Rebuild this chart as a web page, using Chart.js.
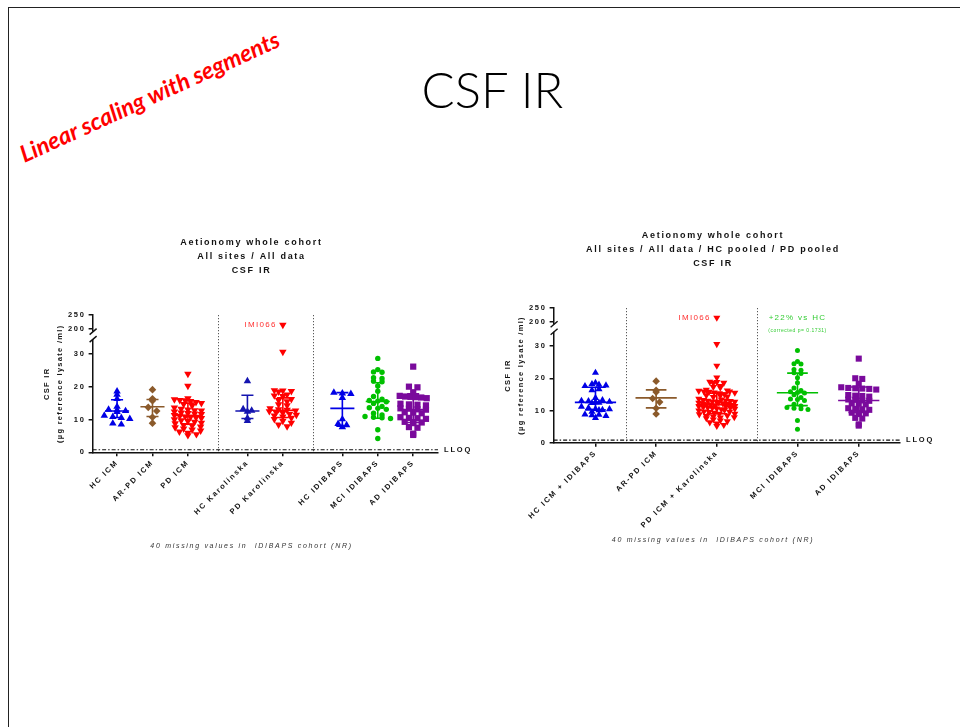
<!DOCTYPE html>
<html>
<head>
<meta charset="utf-8">
<script src="https://cdn.jsdelivr.net/npm/chart.js@4.4.1/dist/chart.umd.min.js"></script>
<style>
body { margin: 0; background: #fff; width: 960px; height: 727px; overflow: hidden; position: relative; font-family: 'Liberation Sans', Arial, sans-serif; }
#frame { position: absolute; left: 8px; top: 7px; width: 1000px; height: 1000px; border: 1px solid #222; }
#slideTitle { position: absolute; left: 0; width: 985px; top: 60px; text-align: center; font-family: Lato, 'Open Sans', sans-serif; font-weight: 300; font-size: 49px; color: #000; }
#stamp { position: absolute; left: 15px; top: 142px; transform-origin: 0 0; transform: rotate(-24.5deg); color: #f00; font: italic bold 23.5px Lato, 'Open Sans', sans-serif; white-space: nowrap; }
canvas { position: absolute; }
</style>
</head>
<body>
<div id="frame"></div>
<div id="slideTitle">CSF IR</div>
<div id="stamp">Linear scaling with segments</div>
<canvas id="chart1" width="445" height="326" style="left:30px;top:228px"></canvas>
<canvas id="chart2" width="450" height="326" style="left:497px;top:222px"></canvas>
<script>
// categories / x positions (gaps between cohorts)
const labels1 = ['HC ICM', 'AR-PD ICM', 'PD ICM', 'HC Karolinska', 'PD Karolinska', 'HC IDIBAPS', 'MCI IDIBAPS', 'AD IDIBAPS'];
const pos1 = [1, 2, 3, 4.68, 5.68, 7.36, 8.36, 9.36];
const labels2 = ['HC ICM + IDIBAPS', 'AR-PD ICM', 'PD ICM + Karolinska', 'MCI IDIBAPS', 'AD IDIBAPS'];
const pos2 = [1, 2, 3, 4.33, 5.34];

// CSF IR values (µg reference lysate /ml)
const hcIcm = [18.6, 17.6, 16.3, 13.9, 13.0, 12.9, 12.6, 12.3, 11.2, 10.8, 10.5, 10.2, 8.8, 8.5];
const arPdIcm = [19.1, 16.3, 15.7, 13.7, 12.6, 10.7, 8.9];
const pdIcm = [23.9, 20.2, 16.4, 16.1, 15.9, 15.8, 15.6, 15.3, 15.0, 14.7, 14.2, 13.6, 13.2, 13.0, 12.8, 12.7, 12.4, 12.1, 11.9, 11.8, 11.6, 11.3, 11.1, 10.9, 10.8, 10.6, 10.4, 10.0, 9.7, 9.5, 9.3, 9.0, 8.8, 8.3, 8.1, 7.8, 7.6, 7.2, 6.9, 6.6, 6.3, 5.9, 5.5, 5.2];
const hcKarolinska = [21.7, 13.2, 12.7, 12.4, 10.4, 9.6];
const pdKarolinska = [30.6, 18.9, 18.8, 18.6, 18.5, 17.6, 17.3, 17.1, 16.2, 15.9, 15.5, 14.6, 14.3, 13.4, 13.1, 12.9, 12.7, 12.5, 12.2, 12.0, 11.7, 11.4, 11.2, 10.9, 10.5, 10.1, 9.6, 9.0, 8.4, 7.9];
const hcIdibaps = [18.2, 18.0, 17.8, 16.6, 10.1, 8.7, 8.3, 7.7];
const mciIdibaps = [28.6, 25.2, 24.5, 24.4, 22.7, 22.5, 21.7, 21.5, 20.2, 18.6, 17.0, 16.2, 15.8, 15.6, 15.4, 14.9, 14.0, 13.6, 13.4, 13.1, 11.9, 11.4, 10.9, 10.7, 10.5, 10.3, 6.9, 4.2];
const adIdibaps = [26.1, 20.0, 19.8, 18.3, 17.2, 17.0, 16.9, 16.8, 16.7, 16.5, 14.8, 14.6, 14.5, 14.3, 13.4, 13.3, 13.1, 13.0, 12.2, 12.1, 11.9, 10.7, 10.5, 10.4, 10.2, 9.3, 9.2, 9.1, 8.9, 7.7, 7.5, 5.7, 5.3];
const imi066 = [215];   // PD Karolinska outlier, upper segment
const lloq = 0.8;

// pooled groups (right chart)
const hcPooled = hcIcm.concat(hcKarolinska, hcIdibaps);
const pdPooled = pdIcm.concat(pdKarolinska);

// median + interquartile range lines
const mid1 = [12.6, 13.9, 11.2, 12.6, 12.8, 13.4, 15.5, 13.0];
const low1 = [10.6, 10.9, 8.6, 10.3, 10.6, 8.0, 10.4, 9.1];
const high1 = [16.0, 16.1, 15.0, 17.4, 16.6, 18.2, 21.2, 17.8];
const mid2 = [12.5, 13.9, 11.8, 15.5, 13.1];
const low2 = [10.2, 10.8, 9.0, 11.5, 9.4];
const high2 = [17.2, 16.4, 15.4, 21.6, 17.3];

const upperTicks = [200, 250];
const lowerTicks = [0, 10, 20, 30];

const BLUE = '#0000e6', NAVY = '#1414b0', BROWN = '#8b5a2b', RED = '#ff0000', GREEN = '#00c000', PURPLE = '#7a0a9c';
const INK = '#111';
const SPACING = '1.7px';

// points with close values go side by side in one row, centred on the group
function rowOffsets(values, binSize, gap, maxWidth) {
    const rows = {};
    values.forEach((v, k) => {
        const b = Math.round(v / binSize);
        (rows[b] = rows[b] || []).push(k);
    });
    const offs = values.map(() => 0);
    Object.values(rows).forEach(idx => {
        const n = idx.length;
        const step = n > 1 ? Math.min(gap, maxWidth / (n - 1)) : 0;
        idx.forEach((k, j) => { offs[k] = (j - (n - 1) / 2) * step; });
    });
    return offs;
}

function decoPlugin(cfg) {
    return {
        id: 'deco',
        beforeUpdate(chart) { chart.ctx.letterSpacing = SPACING; },
        beforeDraw(chart) { chart.ctx.letterSpacing = SPACING; },
        beforeDatasetsDraw(chart) {
            const { ctx, chartArea: a, scales: { x } } = chart;
            ctx.save();
            ctx.strokeStyle = '#333';
            ctx.lineWidth = 1;
            ctx.setLineDash([1, 2]);
            cfg.separators.forEach(i => {
                const px = Math.round((x.getPixelForValue(cfg.pos[i]) + x.getPixelForValue(cfg.pos[i + 1])) / 2) + 0.5;
                ctx.beginPath();
                ctx.moveTo(px, a.top);
                ctx.lineTo(px, a.bottom);
                ctx.stroke();
            });
            ctx.restore();
        },
        afterDatasetsDraw(chart) {
            const { ctx, chartArea: a, scales: { x, y, yTop } } = chart;
            const unit = x.getPixelForValue(1) - x.getPixelForValue(0);
            ctx.save();
            // median with interquartile range
            ctx.lineWidth = 1.6;
            cfg.groups.forEach((g, i) => {
                const cx = x.getPixelForValue(cfg.pos[i]);
                const ym = y.getPixelForValue(cfg.mid[i]);
                const yl = y.getPixelForValue(cfg.low[i]);
                const yh = y.getPixelForValue(cfg.high[i]);
                ctx.strokeStyle = g.color;
                ctx.beginPath();
                ctx.moveTo(cx - 0.34 * unit, ym); ctx.lineTo(cx + 0.34 * unit, ym);
                ctx.moveTo(cx - 0.17 * unit, yl); ctx.lineTo(cx + 0.17 * unit, yl);
                ctx.moveTo(cx - 0.17 * unit, yh); ctx.lineTo(cx + 0.17 * unit, yh);
                ctx.moveTo(cx, yl); ctx.lineTo(cx, yh);
                ctx.stroke();
            });
            // axis break
            const b = y.top;
            const ax = a.left;
            ctx.fillStyle = '#fff';
            ctx.fillRect(ax - 3, b - 2.5, 6, 7.5);
            ctx.strokeStyle = INK;
            ctx.lineWidth = 1.4;
            ctx.beginPath();
            ctx.moveTo(ax - 3, b + 0.5); ctx.lineTo(ax + 4, b - 5.5);
            ctx.moveTo(ax - 3, b + 8); ctx.lineTo(ax + 4, b + 2);
            ctx.stroke();
            // LLOQ
            ctx.letterSpacing = '1.8px';
            ctx.fillStyle = INK;
            ctx.font = 'bold 7.5px "Liberation Sans", Arial';
            ctx.textBaseline = 'middle';
            ctx.textAlign = 'left';
            ctx.fillText('LLOQ', a.right + 6, y.getPixelForValue(lloq));
            // outlier label
            const ox = x.getPixelForValue(cfg.pos[cfg.outlierGroup]);
            const oy = yTop.getPixelForValue(imi066[0]);
            ctx.fillStyle = '#ff3030';
            ctx.font = '8px "Liberation Sans", Arial';
            ctx.letterSpacing = '1.3px';
            ctx.textAlign = 'right';
            ctx.fillText('IMI066', ox - 6, oy);
            // extra annotation
            if (cfg.note) {
                const nx = x.getPixelForValue(cfg.pos[cfg.note.group]);
                ctx.textAlign = 'center';
                ctx.fillStyle = '#33cc33';
                ctx.font = '8px "Liberation Sans", Arial';
                ctx.letterSpacing = '1.3px';
                ctx.fillText(cfg.note.text, nx, a.top + 10);
                ctx.font = '5px "Liberation Sans", Arial';
                ctx.letterSpacing = '0.5px';
                ctx.fillText(cfg.note.sub, nx, a.top + 22);
            }
            // y axis title
            ctx.fillStyle = INK;
            ctx.font = 'bold 7.5px "Liberation Sans", Arial';
            ctx.letterSpacing = '1.3px';
            ctx.textAlign = 'center';
            const cy = (a.top + a.bottom) / 2;
            ctx.translate(a.left, cy);
            ctx.rotate(-Math.PI / 2);
            ctx.fillText('CSF IR', 0, -46);
            ctx.fillText('(µg reference lysate /ml)', 0, -33);
            ctx.restore();
        }
    };
}

function makeChart(id, cfg) {
    const datasets = cfg.groups.map((g, i) => ({
        data: g.values.map(v => ({ x: cfg.pos[i], y: v })),
        yAxisID: 'y',
        pointStyle: g.style,
        pointRotation: g.rot || 0,
        pointRadius: g.r,
        backgroundColor: g.color,
        borderWidth: 0
    }));
    datasets.push({
        data: imi066.map(v => ({ x: cfg.pos[cfg.outlierGroup], y: v })),
        yAxisID: 'yTop',
        pointStyle: 'triangle', pointRotation: 180, pointRadius: cfg.groups[cfg.outlierGroup].r,
        backgroundColor: RED, borderWidth: 0
    });
    datasets.push({
        data: [{ x: cfg.xMin, y: lloq }, { x: cfg.xMax, y: lloq }],
        yAxisID: 'y',
        showLine: true, pointRadius: 0,
        borderColor: INK, borderWidth: 1.2, borderDash: [4, 2, 1.5, 2]
    });

    const tickFont = { size: 7.5, weight: 'bold', family: '"Liberation Sans", Arial' };
    const grid = { drawOnChartArea: false, tickLength: 4, color: INK, lineWidth: 1.5 };
    const border = { color: INK, width: 1.5 };

    const chart = new Chart(document.getElementById(id), {
        type: 'scatter',
        data: { datasets: datasets },
        options: {
            responsive: false,
            animation: false,
            events: [],
            clip: false,
            layout: { padding: cfg.padding },
            plugins: {
                legend: { display: false },
                tooltip: { enabled: false },
                title: {
                    display: true, text: cfg.title, color: INK,
                    font: { size: 9, weight: 'bold', family: '"Liberation Sans", Arial', lineHeight: 1.6 },
                    padding: cfg.titlePad
                },
                subtitle: {
                    display: true, position: 'bottom', text: '40 missing values in  IDIBAPS cohort (NR)',
                    color: '#333', font: { size: 7, style: 'italic', family: '"Liberation Sans", Arial' },
                    padding: cfg.notePad
                }
            },
            scales: {
                x: {
                    type: 'linear', min: cfg.xMin, max: cfg.xMax,
                    afterBuildTicks: s => { s.ticks = cfg.pos.map(v => ({ value: v })); },
                    ticks: {
                        callback: (v, i) => cfg.labels[i],
                        autoSkip: false, minRotation: 45, maxRotation: 45,
                        font: tickFont, color: INK, padding: 2
                    },
                    grid: grid, border: border
                },
                y: {
                    type: 'linear', position: 'left', stack: 'csf', stackWeight: 115,
                    min: 0, max: 36,
                    afterBuildTicks: s => { s.ticks = lowerTicks.map(v => ({ value: v })); },
                    ticks: { font: tickFont, color: INK, padding: 3 },
                    grid: grid, border: border
                },
                yTop: {
                    type: 'linear', position: 'left', stack: 'csf', stackWeight: 18.4,
                    min: 182, max: 250,
                    afterBuildTicks: s => { s.ticks = upperTicks.map(v => ({ value: v })); },
                    ticks: { font: tickFont, color: INK, padding: 3 },
                    grid: grid, border: border
                }
            }
        },
        plugins: [decoPlugin(cfg)]
    });

    // spread points of each group side by side (scatter dot plot)
    const unit = chart.scales.x.getPixelForValue(1) - chart.scales.x.getPixelForValue(0);
    cfg.groups.forEach((g, i) => {
        const offs = rowOffsets(g.values, cfg.binSize, cfg.rowGap, cfg.rowMax);
        chart.data.datasets[i].data = g.values.map((v, k) => ({ x: cfg.pos[i] + offs[k] / unit, y: v }));
    });
    chart.update();
    return chart;
}

makeChart('chart1', {
    labels: labels1, pos: pos1, xMin: 0.31, xMax: 10.06,
    groups: [
        { values: hcIcm, color: BLUE, style: 'triangle', r: 4.3 },
        { values: arPdIcm, color: BROWN, style: 'rectRot', r: 3.8 },
        { values: pdIcm, color: RED, style: 'triangle', rot: 180, r: 4.3 },
        { values: hcKarolinska, color: NAVY, style: 'triangle', r: 4.3 },
        { values: pdKarolinska, color: RED, style: 'triangle', rot: 180, r: 4.3 },
        { values: hcIdibaps, color: BLUE, style: 'triangle', r: 4.3 },
        { values: mciIdibaps, color: GREEN, style: 'circle', r: 2.7 },
        { values: adIdibaps, color: PURPLE, style: 'rect', r: 4.4 }
    ],
    mid: mid1, low: low1, high: high1,
    separators: [2, 4], outlierGroup: 4,
    binSize: 1.2, rowGap: 8.5, rowMax: 27,
    title: ['Aetionomy whole cohort', 'All sites / All data', 'CSF IR'],
    padding: { left: 35, right: 37, top: 0, bottom: 0 },
    titlePad: { top: 7, bottom: 37 },
    notePad: { top: 23, bottom: 4 }
});

makeChart('chart2', {
    labels: labels2, pos: pos2, xMin: 0.31, xMax: 6.02,
    groups: [
        { values: hcPooled, color: BLUE, style: 'triangle', r: 4.1 },
        { values: arPdIcm, color: BROWN, style: 'rectRot', r: 3.8 },
        { values: pdPooled, color: RED, style: 'triangle', rot: 180, r: 4.1 },
        { values: mciIdibaps, color: GREEN, style: 'circle', r: 2.5 },
        { values: adIdibaps, color: PURPLE, style: 'rect', r: 4.3 }
    ],
    mid: mid2, low: low2, high: high2,
    separators: [0, 2], outlierGroup: 2,
    binSize: 1.2, rowGap: 7, rowMax: 36,
    note: { group: 3, text: '+22% vs HC', sub: '(corrected p= 0.1731)' },
    title: ['Aetionomy whole cohort', 'All sites / All data / HC pooled / PD pooled', 'CSF IR'],
    padding: { left: 29, right: 47, top: 0, bottom: 0 },
    titlePad: { top: 6, bottom: 37 },
    notePad: { top: 4, bottom: 4 }
});
</script>
</body>
</html>
